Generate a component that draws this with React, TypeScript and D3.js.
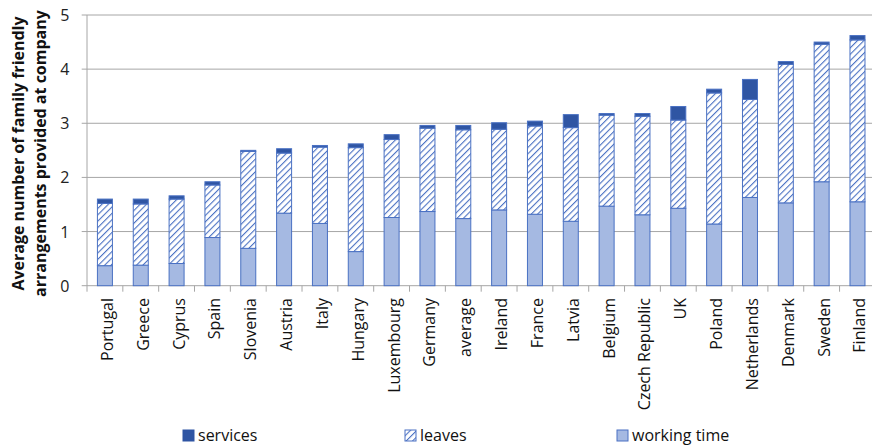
import * as d3 from "d3";
import React from "react";

const countries = [
  "Portugal", "Greece", "Cyprus", "Spain", "Slovenia", "Austria", "Italy", "Hungary",
  "Luxembourg", "Germany", "average", "Ireland", "France", "Latvia", "Belgium",
  "Czech Republic", "UK", "Poland", "Netherlands", "Denmark", "Sweden", "Finland",
];
const workingTime = [0.37, 0.38, 0.41, 0.89, 0.69, 1.34, 1.15, 0.63, 1.26, 1.37, 1.24, 1.4, 1.32, 1.19, 1.47, 1.31, 1.43, 1.14, 1.63, 1.53, 1.92, 1.55];
const leaves = [1.15, 1.13, 1.19, 0.97, 1.79, 1.11, 1.41, 1.92, 1.44, 1.54, 1.64, 1.49, 1.63, 1.73, 1.68, 1.82, 1.63, 2.42, 1.81, 2.56, 2.54, 2.99];
const services = [0.08, 0.09, 0.06, 0.06, 0.02, 0.08, 0.03, 0.07, 0.09, 0.05, 0.08, 0.12, 0.09, 0.24, 0.03, 0.05, 0.25, 0.07, 0.37, 0.05, 0.04, 0.08];
const yTicks = [0, 1, 2, 3, 4, 5];
const seriesKeys = ["working time", "leaves", "services"];
const legendItems = ["services", "leaves", "working time"];

const font = "'Open Sans', 'DejaVu Sans', sans-serif";
const lightFill = "#a5b9e2";
const edge = "#4a71c3";
const darkFill = "#2f55a3";
const gridColor = "#a6a6a6";

const App = () => {
  const x = d3.scaleBand<string>().domain(countries).range([87, 875.4]);
  const y = d3.scaleLinear().domain([0, 5]).range([285.7, 15]);
  const barW = 15;

  const rows = countries.map((c, i) => ({
    name: c,
    "working time": workingTime[i],
    leaves: leaves[i],
    services: services[i],
  }));
  const stacked = d3.stack<any>().keys(seriesKeys)(rows);

  const fillFor = (k: string) =>
    k === "services" ? darkFill : k === "leaves" ? "url(#hatch)" : lightFill;

  // legend swatch positions (x of square)
  const legendX = d3.scaleOrdinal<string, number>().domain(legendItems).range([183, 405, 617]);

  return (
    <svg width={872} height={445} style={{ position: "absolute", left: 0, top: 0, background: "#fff" }}>
      <defs>
        <pattern id="hatch" patternUnits="userSpaceOnUse" width={4.5} height={4.5} patternTransform="rotate(45)">
          <rect width={4.5} height={4.5} fill="#fff" />
          <line x1={0} y1={0} x2={0} y2={4.5} stroke={edge} strokeWidth={2.2} />
        </pattern>
      </defs>

      {/* grid + y axis */}
      {yTicks.map((t) => (
        <g key={t}>
          <line x1={81.7} x2={872} y1={y(t)} y2={y(t)} stroke={gridColor} strokeWidth={1} />
          <text x={69.5} y={y(t)} textAnchor="end" dominantBaseline="central" fontFamily={font} fontSize={16} fill="#222">
            {t}
          </text>
        </g>
      ))}
      <line x1={87} x2={87} y1={y(5)} y2={y(0)} stroke={gridColor} />
      {countries.map((c) => (
        <line key={c} x1={x(c)!} x2={x(c)!} y1={y(0)} y2={y(0) + 6} stroke={gridColor} />
      ))}

      {/* bars */}
      {stacked.map((s) => (
        <g key={s.key}>
          {s.map((d, i) => {
            const cx = x(countries[i])! + x.bandwidth() / 2;
            return (
              <rect
                key={i}
                x={cx - barW / 2}
                y={y(d[1])}
                width={barW}
                height={Math.max(0, y(d[0]) - y(d[1]))}
                fill={fillFor(s.key)}
                stroke={edge}
                strokeWidth={1}
              />
            );
          })}
        </g>
      ))}

      {/* x labels */}
      {countries.map((c) => {
        const cx = x(c)! + x.bandwidth() / 2 + 2;
        return (
          <text
            key={c}
            transform={`translate(${cx},298) rotate(-90)`}
            textAnchor="end"
            dominantBaseline="central"
            fontFamily={font}
            fontSize={16}
            fill="#111"
          >
            {c}
          </text>
        );
      })}

      {/* y title */}
      <text transform="translate(17.5,153.5) rotate(-90)" textAnchor="middle" dominantBaseline="central" fontFamily={font} fontWeight="bold" fontSize={16} fill="#111">
        Average number of family friendly
      </text>
      <text transform="translate(39.5,153.5) rotate(-90)" textAnchor="middle" dominantBaseline="central" fontFamily={font} fontWeight="bold" fontSize={16} fill="#111">
        arrangements provided at company
      </text>

      {/* legend */}
      {legendItems.map((k) => (
        <g key={k}>
          <rect x={legendX(k)} y={430} width={11} height={11} fill={fillFor(k)} stroke={k === "services" ? darkFill : edge} />
          <text x={legendX(k) + 15} y={434.5} dominantBaseline="central" fontFamily={font} fontSize={16} fill="#111">
            {k}
          </text>
        </g>
      ))}
    </svg>
  );
};

export default App;
